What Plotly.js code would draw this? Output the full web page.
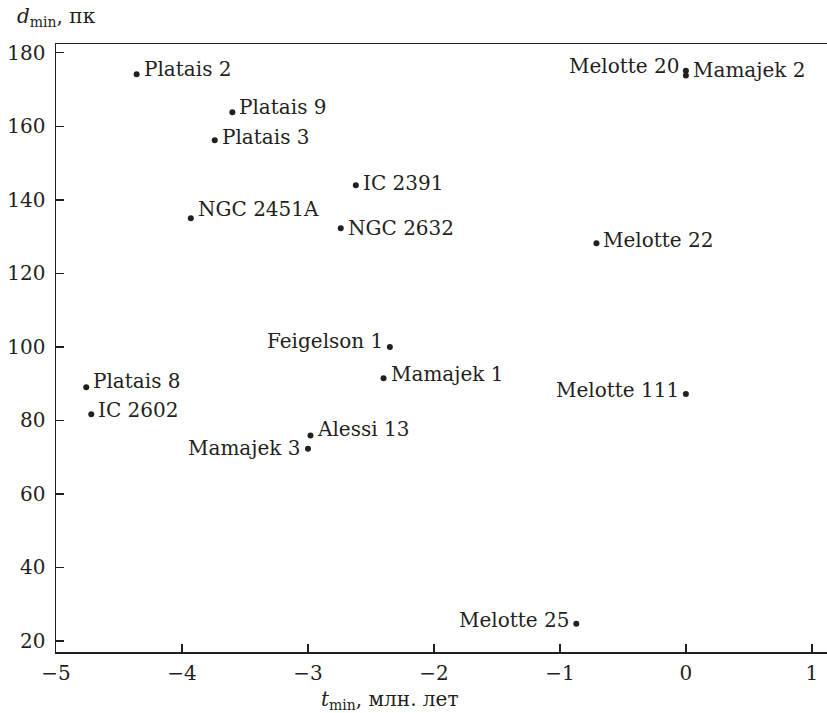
<!DOCTYPE html>
<html>
<head>
<meta charset="utf-8">
<script src="https://cdn.plot.ly/plotly-3.0.1.min.js"></script>
<style>html,body{margin:0;padding:0;background:#fff;}#chart{width:827px;height:713px;}</style>
</head>
<body>
<div id="chart"></div>
<script>
// Data
const names = ["Platais 2","Platais 9","Platais 3","IC 2391","NGC 2451A","NGC 2632",
  "Melotte 20","Mamajek 2","Melotte 22","Feigelson 1","Mamajek 1","Melotte 111",
  "Platais 8","IC 2602","Alessi 13","Mamajek 3","Melotte 25"];
const tmin = [-4.36,-3.60,-3.74,-2.62,-3.93,-2.74,
  0.0,0.0,-0.71,-2.35,-2.40,0.0,
  -4.76,-4.72,-2.98,-3.00,-0.87];
const dmin = [174.2,163.8,156.2,144.0,135.0,132.3,
  175.1,173.8,128.2,100.0,91.5,87.2,
  89.0,81.7,75.9,72.3,24.7];
const xTicks = [-5,-4,-3,-2,-1,0,1];
const yTicks = [20,40,60,80,100,120,140,160,180];

// Label layout (style only)
const labelSide = ["r","r","r","r","r","r",
  "l","r","r","l","r","l",
  "r","r","r","l","l"];
const labelDy = [5,5,3,2,9,0,5,6,3,6,4,4,6,4,6,1,4];

const font = '"DejaVu Serif", serif';
const col = '#231f20';
const fs = 20;

const annotations = names.map((n,i)=>({
  x: tmin[i], y: dmin[i], xref:'x', yref:'y', text: n, showarrow:false,
  xanchor: labelSide[i]==='l' ? 'right':'left', yanchor:'middle',
  xshift: labelSide[i]==='l' ? -5 : 5, yshift: labelDy[i],
  font:{family:font, size:fs, color:col}
}));
annotations.push({
  xref:'paper', yref:'paper', x:-0.053, y:1.0, yshift:27, xanchor:'left', yanchor:'middle',
  text:'<i>d</i><sub>min</sub>, пк', showarrow:false, font:{family:font,size:fs,color:col}
});
annotations.push({
  xref:'paper', yref:'paper', x:0.432, y:0, yshift:-48, xanchor:'center', yanchor:'middle',
  text:'<i>t</i><sub>min</sub>, млн. лет', showarrow:false, font:{family:font,size:fs,color:col}
});

const trace = {
  x: tmin, y: dmin, mode:'markers', type:'scatter',
  marker:{color:col, size:6},
  hoverinfo:'skip'
};

const layout = {
  width:827, height:713,
  margin:{l:56, r:0, t:44, b:61},
  paper_bgcolor:'#fff', plot_bgcolor:'#fff',
  showlegend:false,
  font:{family:font, size:fs, color:col},
  xaxis:{range:[-5,1.12], tickvals:xTicks, ticks:'inside', ticklen:8, tickwidth:1.3,
    tickcolor:col, showline:true, linecolor:col, linewidth:1.5, mirror:true,
    showgrid:false, zeroline:false, tickfont:{family:font,size:fs,color:col},
    ticklabelstandoff:2},
  yaxis:{range:[17,182.4], tickvals:yTicks, ticks:'inside', ticklen:8, tickwidth:1.3,
    tickcolor:col, showline:true, linecolor:col, linewidth:1.5,
    showgrid:false, zeroline:false, tickfont:{family:font,size:fs,color:col},
    ticklabelstandoff:5},
  annotations: annotations
};

Plotly.newPlot('chart',[trace],layout,{staticPlot:true});
</script>
</body>
</html>
